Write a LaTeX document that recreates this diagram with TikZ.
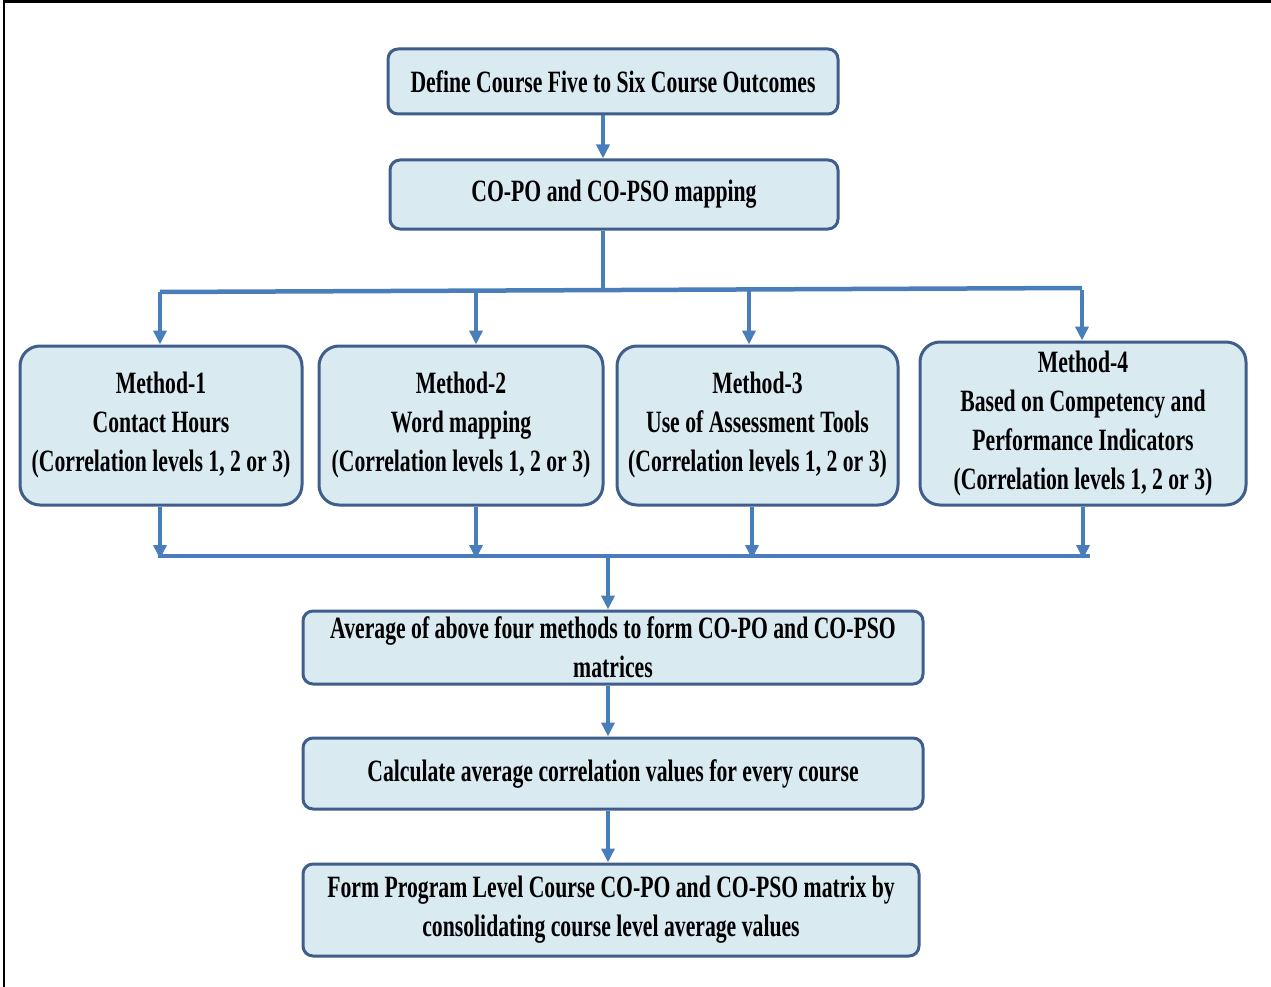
\documentclass[tikz,border=0pt]{standalone}
\usepackage{fontspec}
\setmainfont{Liberation Serif}[FakeStretch=0.70]
\usepackage{tikz}
\usetikzlibrary{arrows.meta,positioning}
\definecolor{boxfill}{RGB}{218,234,241}
\definecolor{boxline}{RGB}{63,94,140}
\definecolor{flow}{RGB}{74,126,187}

\begin{document}
\begin{tikzpicture}[
  x=1pt,y=-1pt,
  stepbox/.style={draw=boxline,fill=boxfill,line width=3pt,rounded corners=10pt,
    align=center,inner sep=0pt,font=\fontsize{31}{39}\selectfont\bfseries},
  methodbox/.style={stepbox,rounded corners=20pt,minimum height=159pt},
  arr/.style={draw=flow,line width=3.5pt,-{Triangle[length=14pt,width=13pt]}},
  bus/.style={draw=flow,line width=4.5pt}
]
\useasboundingbox (0,0) rectangle (1271,987);
\draw[line width=2.5pt] (4,987) -- (4,1.5) -- (1271,1.5);

\node[stepbox,minimum width=450pt,minimum height=65pt] (def) at (613,81.5) {Define Course Five to Six Course Outcomes};
\node[stepbox,minimum width=448pt,minimum height=69pt] (map) at (614,194.5) {CO-PO and CO-PSO mapping};

\node[methodbox,minimum width=282pt] (m1) at (161,425.5) {Method-1\\Contact Hours\\(Correlation levels 1, 2 or 3)};
\node[methodbox,minimum width=284pt] (m2) at (461,425.5) {Method-2\\Word mapping\\(Correlation levels 1, 2 or 3)};
\node[methodbox,minimum width=281pt] (m3) at (757.5,425.5) {Method-3\\Use of Assessment Tools\\(Correlation levels 1, 2 or 3)};
\node[methodbox,minimum width=326pt,minimum height=163pt] (m4) at (1083,423.5) {Method-4\\Based on Competency and\\Performance Indicators\\(Correlation levels 1, 2 or 3)};

\node[stepbox,minimum width=620pt,minimum height=73pt] (avg) at (613,647.5) {Average of above four methods to form CO-PO and CO-PSO\\matrices};
\node[stepbox,minimum width=620pt,minimum height=71pt] (calc) at (613,773.5) {Calculate average correlation values for every course};
\node[stepbox,minimum width=616pt,minimum height=92pt] (form) at (611,910) {Form Program Level Course CO-PO and CO-PSO matrix by\\consolidating course level average values};

% upper bus
\coordinate (t0) at (603,291);
\coordinate (t1) at (160,292);
\coordinate (t2) at (476,291);
\coordinate (t3) at (749,290);
\coordinate (t4) at (1082,288);
% lower bus
\coordinate (b0) at (608,556);
\coordinate (b1) at (160,556);
\coordinate (b2) at (476,556);
\coordinate (b3) at (752,556);
\coordinate (b4) at (1083,556);

\path ([xshift=-10pt]def.south) edge[arr] ([xshift=-11pt]map.north)
([xshift=-11pt]map.south) edge[draw=flow,line width=3.5pt] (t0);

\draw[bus] (t1) -- (t4);
\path (t1) edge[arr] (t1 |- m1.north)
(t2) edge[arr] (t2 |- m2.north)
(t3) edge[arr] (t3 |- m3.north)
([yshift=-2pt]t4) edge[arr] (t4 |- m4.north);

\path (b1 |- m1.south) edge[arr] ([yshift=-3pt]b1)
(b2 |- m2.south) edge[arr] ([yshift=-3pt]b2)
(b3 |- m3.south) edge[arr] ([yshift=-3pt]b3)
(b4 |- m4.south) edge[arr] ([yshift=-3pt]b4);
\draw[bus] ([xshift=-2pt]b1) -- ([xshift=7pt]b4);

\path (b0) edge[arr] (b0 |- avg.north)
(b0 |- avg.south) edge[arr] (b0 |- calc.north)
(b0 |- calc.south) edge[arr] (b0 |- form.north);

\end{tikzpicture}
\end{document}
